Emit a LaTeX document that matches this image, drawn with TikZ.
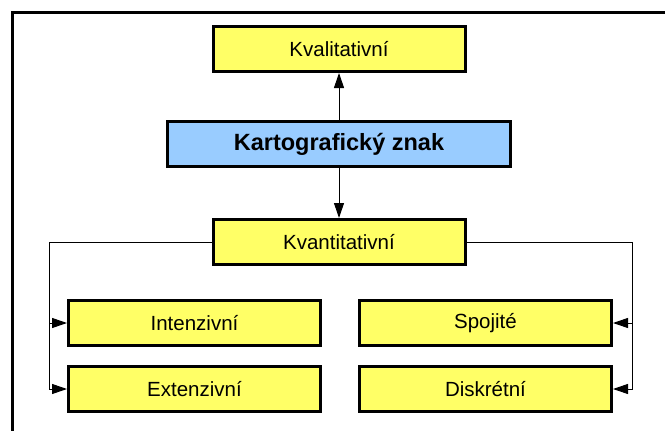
\documentclass[tikz,border=0pt]{standalone}
\usepackage{fontspec}
\setmainfont{Liberation Sans}
\usetikzlibrary{positioning,arrows.meta}
\definecolor{signyellow}{RGB}{255,255,102}
\definecolor{signblue}{RGB}{153,204,255}

\begin{document}
\begin{tikzpicture}[x=1pt,y=-1pt,node distance=18pt and 36pt,font=\fontsize{20.5}{23}\selectfont,
  box/.style={rectangle,draw=black,line width=3pt,fill=signyellow,minimum width=252pt,minimum height=45pt,inner sep=0pt},
  arr/.style={-{Triangle[length=15pt,width=10pt]},line width=1pt}]
  \useasboundingbox (0,0) rectangle (665,431);
  \draw[line width=3pt] (12.5,431) -- (12.5,12.5) -- (665,12.5);
  \node[box](kval) at (339,49){Kvalitativní};
  \node[box,fill=signblue,minimum width=343pt,below=47pt of kval,font=\fontsize{23.5}{26}\bfseries](karto){Kartografický znak};
  \node[box,below=50pt of karto](kvant){Kvantitativní};
  \node[box](intz) at (194.5,323){Intenzivní};
  \node[box,below=of intz](extz){Extenzivní};
  \node[box,right=of intz](spoj){Spojité};
  \node[box,right=of extz](disk){Diskrétní};
  \draw[arr](karto)--(kval); \draw[arr](karto)--(kvant);
  \draw[arr](kvant.west)-|([xshift=-17.5pt]extz.west)--(extz.west);
  \draw[arr]([xshift=-17.5pt]intz.west)--(intz.west);
  \draw[arr](kvant.east)-|([xshift=19.5pt]disk.east)--(disk.east);
  \draw[arr]([xshift=19.5pt]spoj.east)--(spoj.east);
\end{tikzpicture}
\end{document}
